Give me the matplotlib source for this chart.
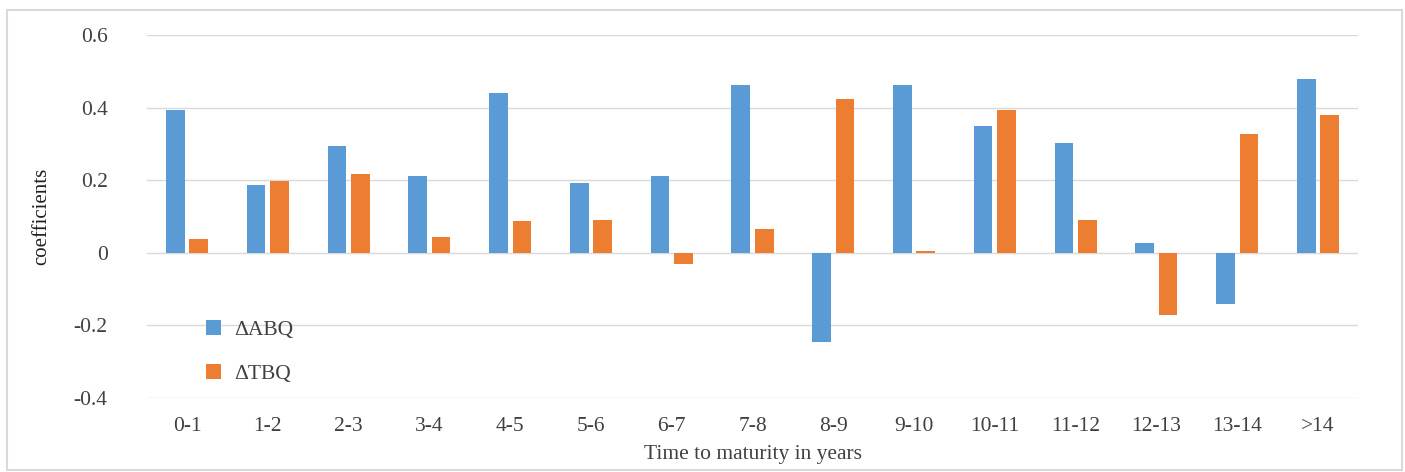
import matplotlib
matplotlib.use("Agg")
import matplotlib.pyplot as plt
from matplotlib.patches import Rectangle
import numpy as np

categories = ["0-1", "1-2", "2-3", "3-4", "4-5", "5-6", "6-7", "7-8", "8-9",
              "9-10", "10-11", "11-12", "12-13", "13-14", ">14"]
abq = [0.394, 0.187, 0.295, 0.212, 0.440, 0.193, 0.212, 0.462, -0.245,
       0.462, 0.350, 0.303, 0.028, -0.140, 0.479]
tbq = [0.039, 0.198, 0.217, 0.044, 0.088, 0.091, -0.030, 0.066, 0.424,
       0.005, 0.394, 0.091, -0.170, 0.328, 0.380]
yticks = [-0.4, -0.2, 0, 0.2, 0.4, 0.6]
yticklabels = ["-0.4", "-0.2", "0", "0.2", "0.4", "0.6"]

plt.rcParams['font.family'] = ['Liberation Serif', 'DejaVu Serif']

fig = plt.figure(figsize=(14.05, 4.72), dpi=100)
ax = fig.add_axes([146.6/1405, 1-398/472, (1358.4-146.6)/1405, (398-35)/472])

fig.patches.append(Rectangle((7/1405, 2/472), 1395/1405, 460/472,
                             transform=fig.transFigure, fill=False,
                             edgecolor='#D9D9D9', linewidth=1.5))

x = np.arange(len(categories))
w = 0.23
ax.bar(x - 0.145, abq, w, color='#5B9BD5', label='ΔABQ', zorder=3)
ax.bar(x + 0.145, tbq, w, color='#ED7D31', label='ΔTBQ', zorder=3)

ax.set_xlim(-0.5, len(categories) - 0.5)
ax.set_ylim(-0.4, 0.6)
ax.set_yticks(yticks)
ax.set_yticklabels(yticklabels)
ax.set_xticks(x)
ax.set_xticklabels(categories)
ax.tick_params(axis='both', length=0, labelsize=15.5, colors='#404040')
ax.tick_params(axis='y', pad=28)
ax.tick_params(axis='x', pad=14)
ax.grid(axis='y', color='#D9D9D9', linewidth=1, zorder=0)
for s in ax.spines.values():
    s.set_visible(False)

ax.set_xlabel('Time to maturity in years', fontsize=15.5, color='#404040', labelpad=6)
ax.set_ylabel('coefficients', fontsize=15, color='#202020', labelpad=16)

leg = ax.legend(loc='lower left', bbox_to_anchor=(0.033, -0.015), frameon=False,
                fontsize=15.5, handlelength=0.7, handleheight=0.7,
                labelspacing=1.1, handletextpad=0.6)
for t in leg.get_texts():
    t.set_color('#404040')

fig.savefig('out.png', dpi=100)
